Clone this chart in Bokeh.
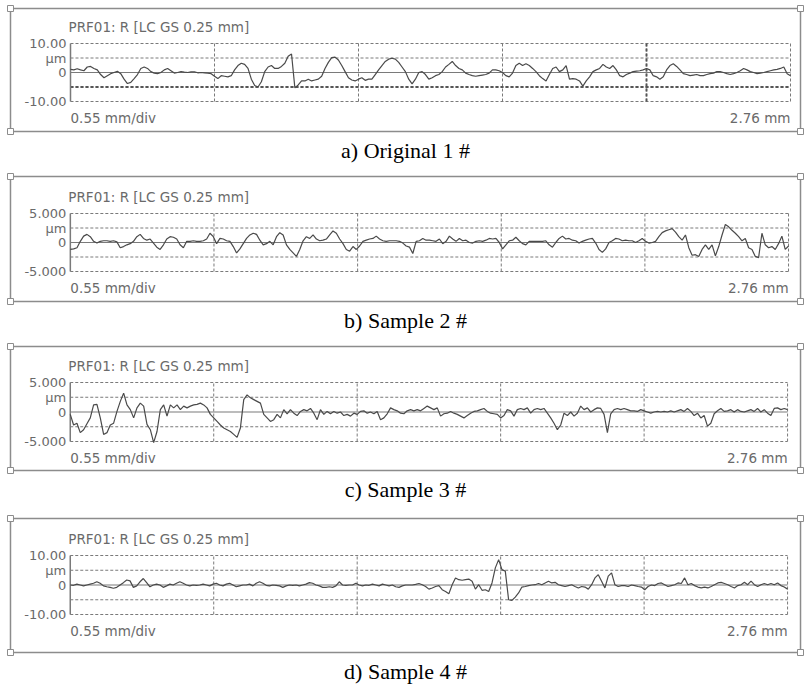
import numpy as np
from bokeh.plotting import figure
from bokeh.models import Range1d, Title
from bokeh.layouts import column
from bokeh.core.properties import value
from bokeh.embed import file_html
from bokeh.resources import INLINE

# ---------------- data ----------------
EVAL_LENGTH_MM = 2.75
div_ticks = [0.55, 1.10, 1.65, 2.20, 2.75]
panel_title = "PRF01: R [LC GS 0.25 mm]"
x_left_label = "0.55 mm/div"
x_right_label = "2.76 mm"
captions = ["a) Original 1 #", "b) Sample 2 #", "c) Sample 3 #", "d) Sample 4 #"]
y_limits = [10, 5, 5, 10]
y_ticks = [[10, 5, 0, -10], [5, 2.5, 0, -5], [5, 2.5, 0, -5], [10, 5, 0, -10]]
y_tick_labels = [
    ["10.00", "µm", "0", "-10.00"],
    ["5.000", "µm", "0", "-5.000"],
    ["5.000", "µm", "0", "-5.000"],
    ["10.00", "µm", "0", "-10.00"],
]
grid_levels = [[10, 5, -5, -10], [5, 2.5, -2.5, -5], [5, 2.5, -2.5, -5], [10, 5, -5, -10]]

# roughness profiles (µm), equally spaced samples along the evaluation length
profile_a = [
    1.1, 0.9, 1.3, 0.9, 0.6, 1.9, 2.1, 1.4, 0.9, -0.7,
    -1.8, -1.1, -0.4, 0, 0.4, -0.4, -2.3, -3.8, -3.4, -2.1,
    -0.7, 1.4, 1.9, 1.4, 0.3, -0.2, -0.4, 0, 0.9, 1.4,
    0.6, -0.2, 0, 0.3, 0.1, 0, 0.2, 0.2, -0.1, 0,
    -0.1, -0.2, -0.4, -1.3, -2.1, -1.1, -1.3, -1.5, -1.1, 0.9,
    2.4, 3.2, 2.8, 1.4, -2.3, -4.5, -5.0, -3.2, 0.3, 1.9,
    2.4, 1.4, 1.4, 2.1, 3.2, 5.6, 6.4, -5.3, -4.3, -2.9,
    -2.9, -2.3, -2.9, -2.6, -2.3, -1.3, 1.4, 3.5, 5.1, 5.3,
    4.3, 2.4, 0.3, -1.8, -2.6, -2.9, -2.3, -1.8, -2.7, -2.3,
    -2.3, -0.7, 0.9, 2.4, 3.8, 4.6, 4.9, 4.6, 3.5, 1.9,
    0.3, -2.3, -3.9,
    -2.3, 0, 0.3, -0.7, -2.3, -1.8, -1.1, -0.7, 0.3, 1.9,
    2.8, 3.8, 2.4, 1.4, 0.9, -0.2, -0.7, -1.1, -1.3, -1.1,
    -0.9, -0.7, -0.2, 0.9, 0.9, 0.6, 0, -1.1, -1.5, -0.2,
    2.4, 3.2, 2.4, 3.0, 2.4, 1.4, 0.3, -1.1, -2.1, -2.9,
    -0.7, 1.4, 1.9, 0.3, 0.9, 2.4, -2.3, -2.1, -2.3, -2.9,
    -4.7, -2.9, -1.5, 0.3, 0.9, 1.4, 2.8, 1.9, 1.4, 2.4,
    0.9, -1.1, -1.5, -0.7, -0.2, 0.3, 0.5, 0.6, 0.9, 1.4,
    0.9, -1.1, -1.5, -2.3, -1.5, 0.9, 2.4, 3.0, 2.1, 0.9,
    -0.4, -0.7, -1.1, -0.9, -0.7, -1.1, -1.1, -0.7, -0.4, -0.2,
    0.3, 0.3, 0, -0.4, -0.7, -0.4, 0, 0.6, 1.4, 0.9,
    0.3, 0, -0.4, -0.2, 0, 0.3, 0.6, 0.9, 1.1, 1.4,
    1.9, -0.4, -1.1,
]
profile_b = [
    -1.2, -1.1, -0.9, 0.2, 1.1, 1.4, 1.0, 0.2, -0.1, 0.2,
    0.3, 0.3, 0.2, 0.3, 0.1, -0.9, -0.7, -0.4, -0.2, 0.2,
    1.0, 1.4, 0.7, 0.4, 0.6, -0.1, -0.8, -1.2, -0.4, 0.6,
    1.0, 0.9, 0.6, -0.4, -0.9, 0.2, 0.2, 0.3, 0.2, 0.2,
    0.3, 0.6, 1.6, 1.0, -0.2, 0.7, 0.6, 0.3, 0.2, -0.7,
    -1.8, -1.1, -0.2, 0.7, 1.3, 1.6, 1.4, 0.4, -0.4, -0.2,
    0.2, -0.4, 1.0, 1.7, 1.3, -0.4, -1.2, -1.8, -2.4, -1.2,
    0.3, 1.0, 0.7, 1.3, 0.6, 0.3, 0.4, 0.6, 1.3, 2.0,
    1.6, 0.6, -0.2, -1.2, -1.5, -0.7, -1.2, -0.6, 0.2, 0.4,
    0.6, 0.7, 1.1, 0.6, 0.3, 0.2, 0.3, 0.3, 0.3, 0.2,
    -0.1, -0.6, -0.8,
    -1.9, 0.2, 0.3, 0.7, 0.4, 0.4, 0.3, 0.2, 0.6, -0.2,
    0.2, 1.1, 0.6, 0.2, 0.7, 0.3, 0.4, 0, -0.1, 0.2,
    0.3, 0.2, 0.4, 0.7, 0.6, 0.7, 0, -1.1, -0.4, 0.3,
    0.4, 0.9, 0.3, -0.2, -0.4, 0.2, 0.2, 0.2, 0.2, 0.2,
    0.3, -0.4, -0.8, 0, 0.7, 1.1, 0.6, 0.7, 0.4, 0.3,
    -0.1, 0.2, 0.4, 0.6, 0.7, -0.1, -1.2, -1.7, -1.1, 0,
    0.3, 0.7, 0.6, 0.3, 0.4, 0.3, 0.3, 0, 0.3, 0.7,
    0.2, -0.1, 0, 0.2, 1.0, 1.7, 2.0, 2.2, 2.4, 1.8,
    1.0, 0.4, 1.3, -0.9, -2.2, -2.1, -2.4, -1.2, -0.4, -1.2,
    -0.4, -2.3, -0.7, 1.3, 3.1, 2.7, 2.1, 1.6, 1.0, 0.3,
    0.7, -0.9, -1.2, -2.4, -2.6, 1.6, -0.4, -0.9, -0.7, -1.2,
    -0.2, 1.1, -1.2, -0.6,
]
profile_c = [
    -0.4, -2.2, -1.9, -3.5, -3.0, -2.0, -1.0, 1.2, 1.3, -1.0,
    -3.8, -3.5, -2.2, -1.9, 0.1, 1.8, 3.2, 1.2, 0.4, -1.0,
    0.7, 1.5, 1.0, -2.1, -3.0, -5.2, -3.3, 0.4, 1.2, -0.7,
    1.2, 0.7, 1.2, 0.4, 1.0, 0.7, 1.0, 1.2, 1.3, 1.5,
    1.2, 0.7, -0.4, -1.0, -1.6, -2.2, -2.7, -3.0, -3.3, -3.8,
    -4.3, -2.7, 2.1, 2.9, 2.4, 2.1, 1.8, 1.5, -0.4, -1.0,
    -1.6, -1.3, -0.4, -1.0, 0.4, -0.3, 0.4, -0.2, -0.6, 0.1,
    0.4, 0.2, 0.6, -0.2, -1.3, 0.4, -0.4, 0.1, -0.3, 0.1,
    -0.2, 0, -0.6, -0.4, -0.7, -0.2, -0.4, 0.1, 0.2, -0.2,
    0, -0.3, 0.1, -1.3, -1.0, -0.3, 0.7, 0.4, 0.2, -0.2,
    -0.3,
    0.2, 0.4, 0.2, 0.4, 0.2, 0.6, 1.0, 0.7, 0.4, 0.7,
    -0.7, -0.3, -0.2, 0.1, -0.2, -0.4, -0.7, -1.0, -0.6, -0.2,
    0.1, 0.2, 0.4, 0.6, 0.1, -0.2, -0.3, -0.4, -1.0, -0.6,
    0.4, 0.2, -0.7, 0.4, 0.6, 0.4, 0.7, -0.2, 0.4, 0.6,
    0.4, 0.6, -0.2, -1.0, -1.9, -3.0, -2.2, -0.2, -0.6, 0,
    -0.7, -0.2, 1.0, 0.4, 0.7, 0, 0.4, 0.7, 0.6, -0.4,
    -3.5, -0.3, 0.4, 0.6, 0.4, 0.6, 0.4, 0.2, 0.2, 0.1,
    0.4, 0.2, 0, -0.2, 0, 0.1, 0, 0.1, 0, 0.2,
    0, 0.2, 0.4, 0.1, 0.6, 0.1, -0.6, -0.2, -1.0, -0.6,
    -2.4, -1.9, -0.3, 0.2, 0.6, 0.1, 0.2, 0.4, 0, 0.4,
    0.1, 0, 0.2, 0.4, 0.1, 0.6, 0, 0.4, -0.2, -0.6,
    0.6, 0.7, 0.4, 0.6, 0.4,
]
profile_d = [
    0, -0.1, 0.3, 0, -0.3, 0, 0.3, 0.6, 1.1, 0.6,
    -0.3, -0.6, -0.8, -1.1, -0.8, 0, 0.8, 1.7, 1.4, -0.8,
    -0.3, 1.1, 2.2, 0.8, -0.6, 0, 0.3, 0, -0.8, -0.3,
    0.3, 0, 0.6, 1.1, 0.6, 0, -0.3, 0, -0.1, 0,
    0.3, 0, -0.3, 0.3, 0.6, 0, -0.3, 0.3, 0.6, 0,
    -0.6, -0.3, 0, 0, 0.3, -0.3, 0.6, 1.1, 0.6, -0.1,
    -0.3, 0, -0.1, -0.3, -0.8, -0.3, 0, -0.1, 0, -0.3,
    0, 0.3, 0.8, 0.6, 0, -0.3, -0.8, -0.8, -0.6, -0.8,
    -0.3, 1.1, 0, -0.1, 0, 0, 0.6, 0, -0.3, 0,
    -0.1, 0.3, 0, -0.3, 0.3, 0, -0.3, 0, -0.6, -0.8,
    -0.3, 0, 0,
    0, 0.2, 0.5, 0.1, -0.5, -1.4, -1.0, -0.5, -0.2, -1.6,
    -2.2, -3.0, 0.1, 2.4, 1.8, 1.6, 1.8, 2.0, 1.3, -1.4,
    0.1, -1.8, -1.6, -2.2, 0.7, 5.8, 8.6, 5.2, 4.7, -5.0,
    -5.2, -4.1, -2.7, -0.7, -0.5, -0.2, 0, 0.1, 0.5, 0.1,
    0.7, 1.3, 0.7, 0.9, 0.1, -0.2, -0.5, -0.2, 0.1, -0.5,
    -1.0, -0.5, -0.7, -1.4, 0.1, 2.4, 3.5, 1.3, -1.0, 3.0,
    4.1, 0.1, -0.5, -0.2, -0.2, -0.5, 0, -0.2, -0.5, -0.7,
    -1.6, -0.5, 0, -0.2, 0.5, 0.7, 0.1, -0.5, -0.2, 0.1,
    0.7, 0.5, 2.4, 0.1, 0.5, -0.2, -0.7, -1.0, -0.7, -1.0,
    -0.5, 0.1, 0.7, 0.9, 0.5, 0.1, -0.5, -1.0, -0.2, 0.1,
    0.9, 0.1, 1.3, 0.1, -0.5, 0.1, 0.5, 0.1, 0.5, 0.1,
    0.7, -0.2, -0.7, -1.4,
]
profiles = [profile_a, profile_b, profile_c, profile_d]

# ---------------- layout (pixels inside each panel figure) ----------------
fig_heights = [170, 170, 170, 176]
data_left_px, data_right_px = 70, 790
frame_tops = [43, 43, 42, 45]
frame_bottoms = [101, 101, 101, 104]
box_left_px = 10
box_tops = [8, 6, 6, 8]
box_bottoms = [131, 131, 130, 142]
box_rights = [800, 802, 803, 803]
PAD = 4

GRAY_TEXT = "#6a6a6a"
GRAY_LINE = "#7a7a7a"
BOX_LINE = "#8c8c8c"
FONT_V = value("DejaVu Sans")


def make_panel(k):
    ylim = y_limits[k]
    H = fig_heights[k]
    ft, fb = frame_tops[k], frame_bottoms[k]
    px_per_mm = (data_right_px - data_left_px) / EVAL_LENGTH_MM
    px_per_um = (fb - ft) / (2.0 * ylim)

    def xd(px):
        return (px - data_left_px) / px_per_mm

    def yd(py):
        return ylim - (py - ft) / px_per_um

    fl = box_left_px - PAD
    fr = min(807, box_rights[k] + PAD)
    ftop = box_tops[k] - PAD
    fbot = box_bottoms[k] + PAD

    p = figure(width=807, height=H,
               x_range=Range1d(xd(fl), xd(fr)), y_range=Range1d(yd(fbot), yd(ftop)),
               x_axis_type=None, y_axis_type=None,
               toolbar_location=None, output_backend="svg",
               min_border_left=fl, min_border_right=807 - fr,
               min_border_top=ftop, min_border_bottom=H - fbot,
               outline_line_color=None,
               background_fill_color="white", border_fill_color="white")
    p.xgrid.visible = False
    p.ygrid.visible = False

    # outer picture frame with corner handles
    p.quad(left=[xd(box_left_px)], right=[xd(box_rights[k])],
           top=[yd(box_tops[k])], bottom=[yd(box_bottoms[k])],
           fill_color=None, line_color=BOX_LINE, line_width=1.5)
    hx = [xd(box_left_px), xd(box_rights[k]), xd(box_left_px), xd(box_rights[k])]
    hy = [yd(box_tops[k]), yd(box_tops[k]), yd(box_bottoms[k]), yd(box_bottoms[k])]
    p.scatter(hx, hy, marker="square", size=6, fill_color="white",
              line_color=BOX_LINE, line_width=1)

    # dashed grid over the evaluation length
    levels = grid_levels[k]
    p.segment(x0=[0] * len(levels), x1=[EVAL_LENGTH_MM] * len(levels), y0=levels, y1=levels,
              line_color=GRAY_LINE, line_dash="3 2", line_width=1)
    p.segment(x0=div_ticks, x1=div_ticks, y0=[-ylim] * len(div_ticks), y1=[ylim] * len(div_ticks),
              line_color=GRAY_LINE, line_dash="3 2", line_width=1)
    if k == 0:
        p.segment(x0=[0], x1=[EVAL_LENGTH_MM], y0=[-ylim / 2], y1=[-ylim / 2],
                  line_color="#555", line_dash="3 2", line_width=2)
        p.segment(x0=[div_ticks[3]], x1=[div_ticks[3]], y0=[-ylim], y1=[ylim],
                  line_color="#555", line_dash="3 2", line_width=2)

    # mean line
    p.segment(x0=[0], x1=[EVAL_LENGTH_MM], y0=[0], y1=[0], line_color=GRAY_LINE, line_width=1.2)

    # y axis line and labels
    p.segment(x0=[0], x1=[0], y0=[-ylim], y1=[ylim], line_color=GRAY_LINE, line_width=1.5)
    p.text(x=[0] * len(y_ticks[k]), y=y_ticks[k], text=y_tick_labels[k], x_offset=-4,
           text_align="right", text_baseline="middle", text_font=FONT_V,
           text_font_size="13px", text_color=GRAY_TEXT)

    # profile
    y = profiles[k]
    x = np.linspace(0, EVAL_LENGTH_MM, len(y))
    p.line(x, y, line_color="#4a4a4a", line_width=1.2)

    # panel header and footer texts
    p.text(x=[0], y=[yd(ft - 17)], text=[panel_title], x_offset=-2,
           text_align="left", text_baseline="middle", text_font=FONT_V,
           text_font_size="13.5px", text_color=GRAY_TEXT)
    p.text(x=[0, EVAL_LENGTH_MM], y=[yd(fb + 16)] * 2, text=[x_left_label, x_right_label],
           text_align=["left", "right"], text_baseline="middle", text_font=FONT_V,
           text_font_size="13.5px", text_color=GRAY_TEXT)

    # caption under the picture
    cap = Title(text=captions[k], align="center", text_font="Liberation Serif",
                text_font_size="22px", text_font_style="normal", text_color="black",
                standoff=1)
    p.add_layout(cap, "below")
    return p


panels = [make_panel(k) for k in range(4)]
layout = column(*panels, spacing=0)
open("out.html", "w").write(file_html(layout, INLINE))
